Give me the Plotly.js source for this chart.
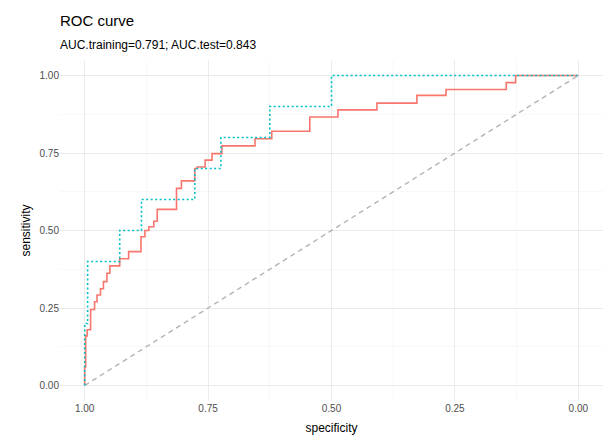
<!DOCTYPE html>
<html>
<head>
<meta charset="utf-8">
<script src="https://cdn.plot.ly/plotly-3.0.1.min.js"></script>
<style>html,body{margin:0;padding:0;background:#fff;}#chart{width:604px;height:437px;}</style>
</head>
<body>
<div id="chart"></div>
<script>
// Training ROC (staircase vertices, specificity / sensitivity)
var trainSpec = [1.000, 1.000, 0.998, 0.995, 0.988, 0.980, 0.975, 0.968, 0.962, 0.955, 0.949, 0.929, 0.911, 0.886, 0.878, 0.870, 0.860, 0.853, 0.814, 0.804, 0.777, 0.772, 0.756, 0.742, 0.722, 0.655, 0.621, 0.544, 0.487, 0.408, 0.327, 0.268, 0.146, 0.127, 0.000];
var trainSens = [0.000, 0.060, 0.160, 0.180, 0.245, 0.270, 0.292, 0.312, 0.335, 0.362, 0.386, 0.409, 0.432, 0.480, 0.500, 0.512, 0.530, 0.568, 0.636, 0.660, 0.700, 0.705, 0.727, 0.748, 0.773, 0.796, 0.820, 0.866, 0.889, 0.911, 0.936, 0.955, 0.977, 1.000, 1.000];
// Test ROC
var testSpec = [1.000, 1.000, 0.994, 0.929, 0.885, 0.777, 0.724, 0.625, 0.500, 0.000];
var testSens = [0.000, 0.200, 0.400, 0.500, 0.600, 0.700, 0.800, 0.900, 1.000, 1.000];
// Reference diagonal
var diagSpec = [1, 0];
var diagSens = [0, 1];
var tickVals = [1.00, 0.75, 0.50, 0.25, 0.00];
var tickText = ["1.00", "0.75", "0.50", "0.25", "0.00"];
var yTickVals = [0.00, 0.25, 0.50, 0.75, 1.00];
var yTickText = ["0.00", "0.25", "0.50", "0.75", "1.00"];
var titleText = 'ROC curve';
var subtitleText = 'AUC.training=0.791; AUC.test=0.843';

var traces = [
  {x: diagSpec, y: diagSens, mode: 'lines', line: {color: '#b3b3b3', width: 1.4, dash: '5px,4px'}, hoverinfo: 'skip'},
  {x: trainSpec, y: trainSens, mode: 'lines', line: {color: '#F8766D', width: 1.6, shape: 'hv'}, name: 'training'},
  {x: testSpec, y: testSens, mode: 'lines', line: {color: '#00BFC4', width: 1.6, shape: 'hv', dash: '2px,2.5px'}, name: 'test'}
];

var gridMinor = {dtick: 0.125, showgrid: true, gridcolor: '#f4f4f4', gridwidth: 0.6, ticks: ''};
var layout = {
  width: 604, height: 437,
  margin: {l: 60, r: 1, t: 60, b: 36},
  paper_bgcolor: '#fff', plot_bgcolor: '#fff',
  font: {family: 'Liberation Sans, Arial, sans-serif', color: '#000'},
  showlegend: false,
  annotations: [
    {text: titleText, xref: 'paper', yref: 'paper', x: -0.004, y: 1.117, xanchor: 'left', yanchor: 'middle', showarrow: false, font: {size: 15, color: '#000'}},
    {text: subtitleText, xref: 'paper', yref: 'paper', x: -0.004, y: 1.044, xanchor: 'left', yanchor: 'middle', showarrow: false, font: {size: 12, color: '#000'}}
  ],
  xaxis: {range: [1.05, -0.05], tickvals: tickVals, ticktext: tickText, showgrid: true, gridcolor: '#ebebeb', gridwidth: 1,
          zeroline: false, showline: false, ticks: '', tickfont: {size: 10, color: '#4d4d4d'},
          minor: gridMinor,
          title: {text: 'specificity', font: {size: 12, color: '#000'}, standoff: 10}},
  yaxis: {range: [-0.05, 1.05], tickvals: yTickVals, ticktext: yTickText, showgrid: true, gridcolor: '#ebebeb', gridwidth: 1,
          zeroline: false, showline: false, ticks: '', tickfont: {size: 10, color: '#4d4d4d'},
          minor: gridMinor,
          title: {text: 'sensitivity', font: {size: 12, color: '#000'}, standoff: 6}}
};
Plotly.newPlot('chart', traces, layout, {displayModeBar: false, staticPlot: true});
</script>
</body>
</html>
